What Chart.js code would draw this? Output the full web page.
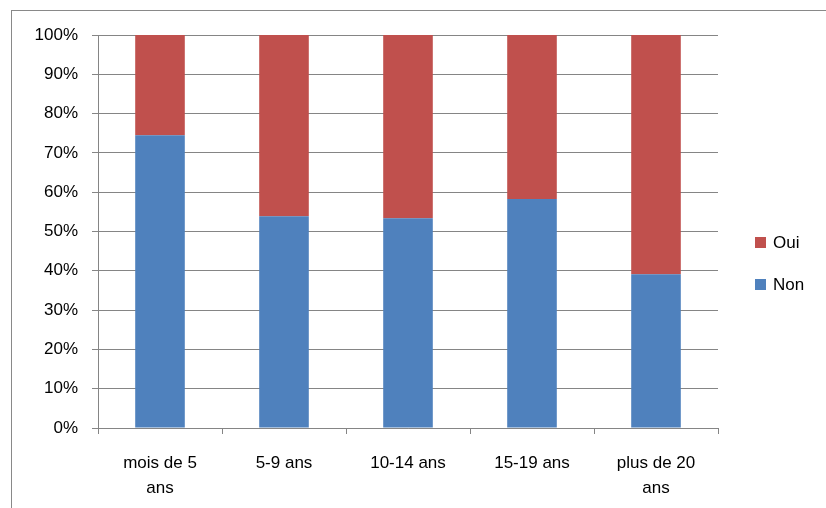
<!DOCTYPE html>
<html>
<head>
<meta charset="utf-8">
<script src="https://cdn.jsdelivr.net/npm/chart.js@4/dist/chart.umd.min.js"></script>
<style>
  html, body { margin: 0; padding: 0; background: #fff; }
  #wrap { position: relative; width: 826px; height: 508px; }
</style>
</head>
<body>
<div id="wrap"><canvas id="c" width="826" height="508"></canvas></div>
<script>
// Age groups (x categories); multi-line labels as arrays
const categories = [["mois de 5", "ans"], "5-9 ans", "10-14 ans", "15-19 ans", ["plus de 20", "ans"]];
// Share of answers per group, in percent
const nonValues = [74.5, 53.9, 53.4, 58.3, 39.1];
const ouiValues = [25.5, 46.1, 46.6, 41.7, 60.9];
const seriesNames = ["Non", "Oui"];
const seriesColors = ["#4F81BD", "#C0504D"];

const FONT = "'Liberation Sans', Arial, sans-serif";
const GRID = "#858585";

// Outer frame of the chart object plus the legend on the right
const framePlugin = {
  id: 'frameAndLegend',
  afterDraw(chart) {
    const ctx = chart.ctx;
    ctx.save();
    ctx.strokeStyle = '#898989';
    ctx.lineWidth = 1;
    ctx.strokeRect(11.5, 10.5, 900, 600);

    // legend, last series on top
    const items = chart.data.datasets.map((d, i) => ({ label: d.label, color: d.backgroundColor })).reverse();
    ctx.font = "17px " + FONT;
    ctx.textBaseline = 'middle';
    ctx.textAlign = 'left';
    const x0 = 755, yStart = 242, step = 42;
    items.forEach((it, i) => {
      const y = yStart + i * step;
      ctx.fillStyle = it.color;
      ctx.fillRect(x0, y - 5, 11, 11);
      ctx.fillStyle = '#000';
      ctx.fillText(it.label, x0 + 18, y + 1);
    });
    ctx.restore();
  }
};

new Chart(document.getElementById('c'), {
  type: 'bar',
  data: {
    labels: categories,
    datasets: [
      { label: seriesNames[0], data: nonValues, backgroundColor: seriesColors[0] },
      { label: seriesNames[1], data: ouiValues, backgroundColor: seriesColors[1] }
    ]
  },
  options: {
    responsive: false,
    animation: false,
    devicePixelRatio: 1,
    layout: { padding: { top: 35, right: 108, bottom: 0, left: 0 } },
    plugins: {
      legend: { display: false },
      tooltip: { enabled: false }
    },
    datasets: {
      bar: { categoryPercentage: 1.0, barPercentage: 0.4 }
    },
    scales: {
      x: {
        stacked: true,
        grid: { drawOnChartArea: false, drawTicks: true, tickLength: 6, color: GRID, offset: true },
        border: { color: GRID, width: 1 },
        ticks: { color: '#000', font: { family: FONT, size: 17, lineHeight: 1.47 }, padding: 17, maxRotation: 0, autoSkip: false },
        afterFit(scale) { scale.height = 80; }
      },
      y: {
        stacked: true,
        min: 0,
        max: 100,
        grid: { color: GRID, lineWidth: 1, tickLength: 6, drawTicks: true },
        border: { color: GRID, width: 1 },
        ticks: {
          stepSize: 10,
          color: '#000',
          font: { family: FONT, size: 17 },
          padding: 14,
          callback: v => v + '%'
        },
        afterFit(scale) { scale.width = 98; }
      }
    }
  },
  plugins: [framePlugin]
});
</script>
</body>
</html>
